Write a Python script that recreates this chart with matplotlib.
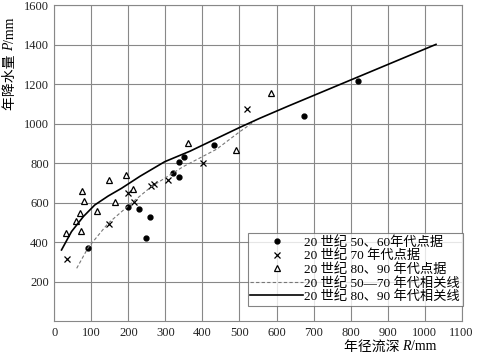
import matplotlib
matplotlib.use("Agg")
import matplotlib.pyplot as plt

plt.rcParams['font.family'] = ['Liberation Serif', 'Noto Sans CJK SC']

# 20世纪50、60年代点据
r_5060 = [90, 198, 229, 259, 246, 321, 337, 337, 351, 431, 674, 821]
p_5060 = [372, 578, 568, 529, 424, 753, 733, 806, 834, 895, 1042, 1220]

# 20世纪70年代点据
r_70 = [33, 147, 199, 215, 260, 269, 307, 402, 520]
p_70 = [318, 494, 649, 605, 686, 695, 716, 804, 1076]

# 20世纪80、90年代点据
r_8090 = [31, 58, 70, 75, 79, 72, 114, 147, 164, 192, 211, 361, 490, 584]
p_8090 = [447, 509, 551, 662, 610, 460, 559, 716, 607, 742, 669, 905, 869, 1157]

# 相关线
r_fit1 = [60, 91, 145, 213, 262, 348, 438, 500, 540]
p_fit1 = [269, 374, 497, 607, 683, 784, 872, 960, 1012]
r_fit2 = [19, 46, 78, 109, 145, 181, 231, 298, 366, 500, 555, 631, 1031]
p_fit2 = [362, 455, 531, 590, 635, 674, 735, 809, 862, 982, 1029, 1090, 1403]

W, H = 478, 354
fig = plt.figure(figsize=(W / 100, H / 100), dpi=100)
ax = fig.add_axes([0.114, 0.092, 0.8515, 0.8925])

ax.plot(r_5060, p_5060, 'o', color='black', ms=3.5, ls='none',
        label='20 世纪 50、60年代点据')
ax.plot(r_70, p_70, 'x', color='black', ms=4.5, mew=0.9, ls='none',
        label='20 世纪 70 年代点据')
ax.plot(r_8090, p_8090, '^', mfc='white', mec='black', ms=5, mew=0.9, ls='none',
        label='20 世纪 80、90 年代点据')
ax.plot(r_fit1, p_fit1, color='#777777', lw=0.8, ls=(0, (3, 2)),
        label='20 世纪 50—70 年代相关线')
ax.plot(r_fit2, p_fit2, color='black', lw=1.2,
        label='20 世纪 80、90 年代相关线')

ax.set_xlim(0, 1100)
ax.set_ylim(0, 1600)
ax.set_xticks(range(0, 1101, 100))
ax.set_yticks(range(200, 1601, 200))
ax.tick_params(length=0, labelsize=9, colors='#222222', pad=4)
ax.grid(True, color='#888888', lw=0.8)
for s in ax.spines.values():
    s.set_color('#888888')
    s.set_linewidth(0.8)

leg = ax.legend(loc='lower right', bbox_to_anchor=(1.003, 0.05), fontsize=9.5,
                frameon=True, fancybox=False, edgecolor='#666666',
                borderpad=0.2, labelspacing=0.05, handlelength=4.0,
                handletextpad=0.1, borderaxespad=0)
leg.get_frame().set_linewidth(0.8)


# 轴标题: 中文 + 斜体变量, 分段拼接
def seg_label(parts, cx, cy, vertical=False):
    rend = fig.canvas.get_renderer()
    texts = []
    for s, italic in parts:
        t = fig.text(0, 0, s, fontsize=10, style='italic' if italic else 'normal',
                     rotation=90 if vertical else 0, ha='left', va='bottom',
                     transform=None)
        texts.append(t)
    sizes = []
    for t in texts:
        bb = t.get_window_extent(rend)
        sizes.append(bb.height if vertical else bb.width)
    total = sum(sizes)
    pos = (cy if vertical else cx) - total / 2
    for t, s in zip(texts, sizes):
        if vertical:
            t.set_position((cx, pos))
            t.set_va('bottom')
            t.set_ha('center')
        else:
            t.set_position((pos, cy))
            t.set_va('center')
        pos += s


seg_label([('年径流深 ', False), ('R', True), ('/mm', False)], 390, H - 347)
seg_label([('年降水量 ', False), ('P', True), ('/mm', False)], 10, H - 64, vertical=True)

fig.savefig('out.png', dpi=100)
